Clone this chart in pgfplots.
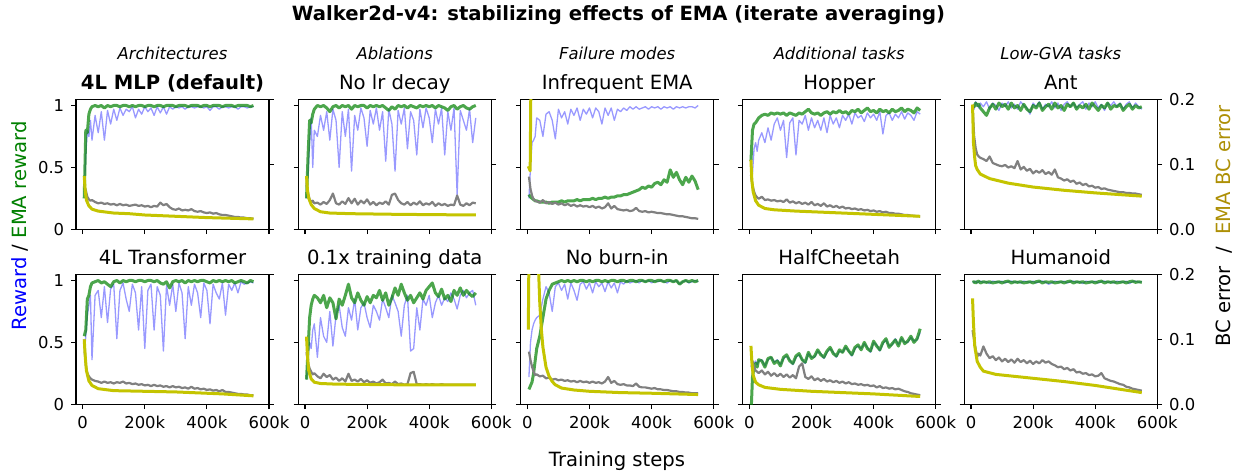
\documentclass[border=0pt]{standalone}
\usepackage{fontspec}
\setmainfont{DejaVu Sans}
\usepackage{pgfplots}
\pgfplotsset{compat=1.18}
\usepackage{pgfplotstable}
\definecolor{mblue}{rgb}{0,0,1}
\definecolor{mgreen}{rgb}{0,0.5,0}
\definecolor{mgray}{rgb}{0.5,0.5,0.5}
\definecolor{myel}{rgb}{0.77,0.77,0}
\definecolor{mgold}{rgb}{0.68,0.56,0.02}
\newcommand{\fbig}{\fontsize{9.8bp}{11bp}\selectfont}
\newcommand{\fmed}{\fontsize{8.2bp}{9.5bp}\selectfont}

\pgfplotsset{
  base/.style={scale only axis, width=96.5bp, height=65bp, xmin=-21.5, xmax=600,
    tick align=outside, major tick length=2.4bp,
    tick style={black, line width=0.55bp},
    axis line style={line width=0.55bp},
    tick label style={font=\fmed},
    no markers, clip=true},
  leftax/.style={base, ymin=0, ymax=1.05, ytick={0,0.5,1}, xtick={0,200,400,600},
    yticklabels={}, xticklabels={}, tick pos=left},
  rightax/.style={base, ymin=0, ymax=0.2, ytick={0,0.1,0.2}, yticklabels={},
    axis y line*=right, axis x line=none},
  ylab/.style={yticklabels={0,0.5,1}},
  xlab/.style={xticklabels={0,200k,400k,600k}},
  rlab/.style={yticklabels={0.0,0.1,0.2}},
  bl/.style={color=mblue, opacity=0.4, line width=0.65bp, line join=round},
  gr/.style={color=mgreen, opacity=0.7, line width=1.5bp, line join=round},
  gy/.style={color=mgray, line width=1.1bp, line join=round},
  yl/.style={color=myel, line width=1.5bp, line join=round},
}

\pgfplotstableread{
x b g c
5 0.30 0.25 0.068
10 0.60 0.80 0.060
15 0.80 0.78 0.050
20 0.75 0.93 0.046
25 0.88 0.97 0.044
30 0.72 0.99 0.045
40 0.92 1.00 0.042
50 0.78 0.99 0.040
60 0.95 1.00 0.041
70 0.72 0.98 0.039
80 0.96 1.00 0.040
90 0.85 0.99 0.038
100 0.97 1.00 0.039
110 0.88 1.00 0.037
120 0.98 0.99 0.039
130 0.92 1.00 0.037
140 0.97 1.00 0.038
150 0.95 0.99 0.036
160 0.99 1.00 0.037
170 0.90 0.99 0.038
180 0.97 1.00 0.036
190 0.93 1.00 0.037
200 0.99 0.99 0.035
210 0.95 1.00 0.036
220 0.98 1.00 0.034
230 0.92 0.99 0.036
240 0.99 1.00 0.035
250 0.94 1.00 0.041
260 0.99 0.99 0.037
270 0.93 1.00 0.039
280 0.99 1.00 0.034
290 0.97 1.00 0.031
300 0.99 0.99 0.030
310 0.98 1.00 0.032
320 0.99 1.00 0.029
330 0.97 1.00 0.030
340 0.99 0.99 0.029
350 0.99 1.00 0.031
360 0.98 1.00 0.028
370 0.99 1.00 0.027
380 0.99 0.99 0.028
390 0.98 1.00 0.026
400 0.99 1.00 0.025
410 0.96 0.99 0.026
420 0.99 1.00 0.024
430 0.99 1.00 0.025
440 0.97 1.00 0.023
450 0.99 0.99 0.022
460 0.99 1.00 0.022
470 0.98 1.00 0.021
480 0.99 1.00 0.020
490 0.99 0.99 0.019
500 0.97 1.00 0.019
510 0.99 1.00 0.018
520 0.99 1.00 0.018
530 0.98 1.00 0.017
540 0.99 0.99 0.017
550 0.99 1.00 0.016
}\tA

\pgfplotstableread{
x b g c
5 0.25 0.25 0.071
10 0.45 0.60 0.055
15 0.70 0.88 0.046
20 0.90 0.86 0.042
25 0.50 0.93 0.044
30 0.80 0.97 0.040
40 0.75 1.00 0.041
50 0.92 0.99 0.038
60 0.80 1.00 0.042
70 0.95 0.98 0.039
80 0.72 0.95 0.045
90 0.97 0.99 0.055
100 0.88 1.00 0.040
110 0.50 0.98 0.038
120 0.95 1.00 0.043
130 0.75 0.99 0.039
140 0.97 1.00 0.048
150 0.47 0.97 0.040
160 0.92 1.00 0.047
170 0.80 0.99 0.038
180 0.98 1.00 0.044
190 0.90 1.00 0.040
200 0.67 0.98 0.046
210 0.96 1.00 0.038
220 0.85 0.99 0.042
230 0.98 1.00 0.037
240 0.80 0.99 0.041
250 0.95 1.00 0.039
260 0.55 0.98 0.043
270 0.97 0.96 0.038
280 0.85 0.99 0.053
290 0.47 0.97 0.055
300 0.96 1.00 0.045
310 0.85 0.99 0.040
320 0.98 1.00 0.038
330 0.65 0.98 0.042
340 0.95 1.00 0.037
350 0.88 0.99 0.041
360 0.60 0.98 0.038
370 0.97 1.00 0.043
380 0.82 0.99 0.037
390 0.98 1.00 0.040
400 0.90 0.99 0.038
410 0.70 1.00 0.042
420 0.97 0.98 0.036
430 0.85 1.00 0.040
440 0.98 0.99 0.037
450 0.60 0.98 0.039
460 0.95 0.96 0.036
470 0.80 0.99 0.038
480 0.98 1.00 0.037
490 0.28 0.97 0.052
500 0.96 0.99 0.038
510 0.88 1.00 0.036
520 0.80 0.98 0.040
530 0.97 0.97 0.037
540 0.70 0.99 0.041
550 0.90 1.00 0.040
}\tB

\pgfplotstableread{
x b g c
5 0.25 0.28 0.081
10 0.50 0.26 0.062
15 0.70 0.25 0.052
20 0.72 0.24 0.046
25 0.75 0.23 0.044
30 0.90 0.23 0.043
40 0.88 0.22 0.041
50 0.75 0.22 0.045
60 0.93 0.22 0.040
70 0.95 0.21 0.042
80 0.88 0.22 0.039
90 0.73 0.22 0.041
100 0.97 0.22 0.038
110 0.90 0.23 0.040
120 0.95 0.22 0.037
130 0.85 0.23 0.039
140 0.97 0.23 0.036
150 0.92 0.23 0.038
160 0.98 0.24 0.035
170 0.88 0.23 0.037
180 0.97 0.24 0.035
190 0.93 0.24 0.036
200 0.98 0.24 0.034
210 0.90 0.25 0.036
220 0.98 0.24 0.033
230 0.95 0.25 0.035
240 0.85 0.25 0.032
250 0.98 0.26 0.034
260 0.92 0.25 0.040
270 0.98 0.26 0.032
280 0.88 0.26 0.036
290 0.97 0.27 0.031
300 0.95 0.27 0.030
310 0.98 0.28 0.029
320 0.96 0.28 0.030
330 0.99 0.29 0.028
340 0.97 0.30 0.029
350 0.99 0.31 0.033
360 0.97 0.32 0.028
370 0.98 0.34 0.027
380 0.99 0.33 0.028
390 0.97 0.35 0.026
400 0.99 0.34 0.027
410 0.98 0.37 0.026
420 0.99 0.38 0.025
430 0.97 0.36 0.025
440 0.99 0.40 0.024
450 0.98 0.38 0.023
460 0.99 0.48 0.023
470 0.97 0.42 0.022
480 0.99 0.46 0.021
490 0.98 0.40 0.020
500 0.99 0.36 0.020
510 0.98 0.42 0.019
520 0.99 0.38 0.018
530 0.99 0.43 0.017
540 0.98 0.39 0.017
550 1.00 0.32 0.016
}\tC

\pgfplotstableread{
x b g c
5 0.40 0.55 0.084
10 0.45 0.80 0.068
15 0.65 0.85 0.058
20 0.70 0.86 0.052
25 0.63 0.88 0.049
30 0.72 0.90 0.047
40 0.78 0.92 0.050
50 0.70 0.93 0.045
60 0.82 0.92 0.046
70 0.72 0.94 0.044
80 0.85 0.93 0.045
90 0.90 0.94 0.043
100 0.80 0.93 0.044
110 0.88 0.94 0.042
120 0.58 0.92 0.046
130 0.86 0.94 0.041
140 0.90 0.93 0.043
150 0.60 0.92 0.040
160 0.88 0.94 0.042
170 0.85 0.93 0.039
180 0.92 0.95 0.041
190 0.80 0.97 0.038
200 0.90 0.94 0.042
210 0.82 0.93 0.037
220 0.88 0.94 0.039
230 0.80 0.92 0.036
240 0.90 0.94 0.040
250 0.78 0.95 0.035
260 0.92 0.93 0.037
270 0.85 0.95 0.034
280 0.90 0.94 0.036
290 0.82 0.96 0.033
300 0.92 0.94 0.035
310 0.88 0.95 0.032
320 0.93 0.93 0.033
330 0.85 0.96 0.031
340 0.94 0.95 0.032
350 0.90 0.97 0.030
360 0.92 0.94 0.031
370 0.87 0.96 0.029
380 0.94 0.98 0.030
390 0.90 0.95 0.028
400 0.93 0.96 0.029
410 0.88 0.94 0.027
420 0.95 0.97 0.028
430 0.77 0.95 0.026
440 0.92 0.96 0.027
450 0.94 0.94 0.025
460 0.88 0.97 0.025
470 0.93 0.95 0.024
480 0.90 0.96 0.024
490 0.95 0.98 0.023
500 0.89 0.95 0.022
510 0.94 0.97 0.022
520 0.92 0.96 0.021
530 0.88 0.94 0.021
540 0.95 0.98 0.020
550 0.93 0.96 0.020
}\tD

\pgfplotstableread{
x b g c
5 1.00 1.00 0.190
10 0.97 0.99 0.144
15 1.03 1.02 0.125
20 1.01 1.00 0.115
25 0.98 1.01 0.112
30 1.02 0.98 0.110
40 0.99 0.95 0.108
50 1.03 0.92 0.105
60 0.97 0.98 0.112
70 1.02 1.01 0.102
80 1.00 0.97 0.100
90 0.96 1.02 0.098
100 1.02 0.99 0.097
110 0.99 1.01 0.099
120 1.03 0.97 0.095
130 0.98 1.02 0.097
140 1.01 0.98 0.094
150 0.97 1.00 0.105
160 1.03 0.96 0.092
170 1.00 1.01 0.096
180 0.98 0.97 0.090
190 0.93 0.95 0.093
200 1.02 1.00 0.086
210 0.99 0.98 0.090
220 1.03 1.02 0.087
230 0.97 0.96 0.091
240 1.01 0.99 0.085
250 0.99 1.01 0.088
260 1.03 0.97 0.084
270 0.98 1.02 0.092
280 1.02 0.98 0.080
290 0.96 1.00 0.078
300 1.01 0.96 0.075
310 1.03 1.01 0.077
320 0.99 0.99 0.073
330 1.02 1.02 0.075
340 0.98 0.97 0.070
350 1.01 1.00 0.072
360 1.03 0.98 0.068
370 0.97 1.01 0.070
380 1.02 0.97 0.066
390 0.99 1.02 0.067
400 1.03 0.99 0.064
410 0.98 0.96 0.065
420 1.01 1.00 0.062
430 0.96 0.98 0.063
440 1.02 1.02 0.061
450 1.00 0.97 0.060
460 1.03 1.00 0.059
470 0.99 0.99 0.058
480 1.02 1.01 0.057
490 0.97 0.96 0.057
500 1.01 0.99 0.056
510 1.03 1.01 0.056
520 0.98 0.97 0.055
530 1.02 1.00 0.055
540 0.99 0.98 0.054
550 0.97 0.99 0.053
}\tE

\pgfplotstableread{
x b g c
5 0.40 0.55 0.100
10 0.55 0.60 0.060
15 0.72 0.85 0.048
20 0.80 0.88 0.043
25 0.88 0.95 0.040
30 0.36 0.98 0.038
40 0.88 0.99 0.036
50 0.92 1.00 0.035
60 0.70 0.98 0.033
70 0.95 0.99 0.035
80 0.66 0.97 0.033
90 0.93 0.95 0.034
100 0.97 0.99 0.032
110 0.53 1.00 0.034
120 0.92 0.98 0.033
130 0.98 1.00 0.035
140 0.85 0.99 0.032
150 0.75 1.00 0.033
160 0.97 1.00 0.031
170 0.90 0.99 0.032
180 0.60 1.00 0.030
190 0.95 1.00 0.031
200 0.45 0.99 0.029
210 0.92 1.00 0.030
220 0.97 1.00 0.028
230 0.60 0.99 0.030
240 0.95 1.00 0.028
250 0.88 0.98 0.029
260 0.43 0.97 0.027
270 0.96 0.99 0.028
280 0.80 0.94 0.026
290 0.97 0.99 0.028
300 0.75 1.00 0.026
310 0.98 0.99 0.027
320 0.90 1.00 0.025
330 0.53 0.98 0.026
340 0.95 1.00 0.024
350 0.80 0.99 0.027
360 0.97 1.00 0.024
370 0.90 0.99 0.025
380 0.70 1.00 0.023
390 0.98 1.00 0.024
400 0.92 0.99 0.022
410 0.65 0.98 0.023
420 0.97 1.00 0.021
430 0.90 0.99 0.022
440 0.85 1.00 0.020
450 0.98 0.99 0.022
460 0.72 1.00 0.019
470 0.97 0.99 0.019
480 0.92 1.00 0.018
490 0.98 0.98 0.017
500 0.90 0.99 0.016
510 0.99 1.00 0.016
520 0.97 0.99 0.015
530 0.98 0.98 0.015
540 0.99 1.00 0.014
550 0.98 0.99 0.014
}\tF

\pgfplotstableread{
x b g c
5 0.20 0.20 0.080
10 0.40 0.45 0.063
15 0.50 0.70 0.055
20 0.45 0.80 0.050
25 0.60 0.85 0.046
30 0.65 0.88 0.048
40 0.38 0.86 0.043
50 0.70 0.82 0.040
60 0.55 0.88 0.047
70 0.50 0.78 0.042
80 0.75 0.86 0.045
90 0.47 0.82 0.038
100 0.72 0.69 0.041
110 0.80 0.85 0.036
120 0.62 0.80 0.040
130 0.55 0.88 0.035
140 0.78 0.97 0.047
150 0.68 0.86 0.036
160 0.85 0.82 0.038
170 0.60 0.90 0.035
180 0.78 0.84 0.039
190 0.82 0.80 0.034
200 0.70 0.87 0.037
210 0.62 0.82 0.033
220 0.80 0.88 0.035
230 0.75 0.86 0.032
240 0.68 0.92 0.034
250 0.85 0.84 0.038
260 0.78 0.90 0.032
270 0.70 0.80 0.033
280 0.88 0.86 0.031
290 0.82 0.94 0.035
300 0.75 0.88 0.031
310 0.55 0.97 0.032
320 0.80 0.90 0.030
330 0.88 0.84 0.031
340 0.43 0.88 0.048
350 0.45 0.82 0.050
360 0.78 0.86 0.031
370 0.60 0.90 0.031
380 0.85 0.85 0.030
390 0.80 0.92 0.031
400 0.88 0.95 0.030
410 0.70 0.98 0.031
420 0.82 0.90 0.030
430 0.88 0.87 0.030
440 0.80 0.93 0.031
450 0.86 0.85 0.030
460 0.83 0.88 0.030
470 0.90 0.83 0.030
480 0.85 0.92 0.030
490 0.77 0.88 0.030
500 0.88 0.94 0.030
510 0.92 0.88 0.030
520 0.86 0.92 0.030
530 0.90 0.89 0.030
540 0.92 0.87 0.030
550 0.80 0.90 0.030
}\tG

\pgfplotstableread{
x b g c
5 0.22 0.12 0.081
10 0.50 0.15 0.068
15 0.60 0.18 0.058
20 0.65 0.25 0.050
25 0.68 0.35 0.045
30 0.70 0.45 0.046
40 0.72 0.55 0.043
50 0.85 0.70 0.044
60 0.95 0.85 0.040
70 0.90 0.92 0.041
80 0.75 0.97 0.038
90 0.95 0.98 0.039
100 0.98 0.99 0.037
110 0.92 1.00 0.038
120 0.97 0.99 0.036
130 0.85 1.00 0.037
140 0.98 0.99 0.035
150 0.92 1.00 0.036
160 0.84 0.99 0.034
170 0.97 1.00 0.036
180 0.99 1.00 0.034
190 0.93 0.99 0.035
200 0.98 1.00 0.033
210 0.90 0.99 0.035
220 0.99 1.00 0.033
230 0.95 1.00 0.034
240 0.98 0.99 0.032
250 0.91 1.00 0.035
260 0.99 0.99 0.042
270 0.94 1.00 0.033
280 0.98 1.00 0.036
290 0.90 0.99 0.031
300 0.99 1.00 0.030
310 0.97 1.00 0.031
320 1.00 0.99 0.029
330 0.98 1.00 0.029
340 0.99 1.00 0.028
350 1.00 0.99 0.032
360 0.98 1.00 0.027
370 1.00 1.00 0.026
380 0.99 0.99 0.026
390 1.00 1.00 0.025
400 0.98 1.00 0.024
410 1.00 0.99 0.025
420 0.99 1.00 0.023
430 1.00 1.00 0.023
440 0.99 0.99 0.022
450 0.98 1.00 0.022
460 1.00 1.00 0.021
470 0.99 0.99 0.020
480 1.00 1.00 0.020
490 0.97 0.97 0.019
500 0.99 0.99 0.019
510 1.00 1.00 0.018
520 0.98 0.99 0.018
530 0.99 1.00 0.017
540 1.00 0.99 0.017
550 0.99 1.00 0.017
}\tH

\pgfplotstableread{
x b g c
5 0.30 -0.10 0.070
10 0.35 0.22 0.066
15 0.33 0.30 0.058
20 0.35 0.33 0.052
25 0.32 0.30 0.050
30 0.35 0.36 0.048
40 0.36 0.35 0.052
50 0.31 0.30 0.046
60 0.36 0.37 0.050
70 0.38 0.38 0.044
80 0.34 0.33 0.048
90 0.36 0.35 0.043
100 0.32 0.31 0.047
110 0.37 0.38 0.042
120 0.39 0.40 0.046
130 0.36 0.35 0.041
140 0.32 0.33 0.045
150 0.38 0.39 0.040
160 0.40 0.41 0.058
170 0.36 0.36 0.063
180 0.33 0.34 0.042
190 0.41 0.42 0.039
200 0.38 0.37 0.043
210 0.38 0.39 0.037
220 0.43 0.44 0.040
230 0.41 0.40 0.036
240 0.37 0.38 0.039
250 0.42 0.43 0.035
260 0.45 0.46 0.037
270 0.42 0.41 0.034
280 0.38 0.39 0.036
290 0.43 0.44 0.033
300 0.42 0.42 0.035
310 0.46 0.47 0.032
320 0.43 0.43 0.034
330 0.39 0.40 0.031
340 0.45 0.46 0.032
350 0.47 0.48 0.030
360 0.45 0.44 0.031
370 0.49 0.50 0.029
380 0.46 0.45 0.030
390 0.42 0.43 0.028
400 0.50 0.51 0.029
410 0.48 0.47 0.026
420 0.43 0.44 0.028
430 0.49 0.50 0.025
440 0.52 0.53 0.026
450 0.47 0.46 0.024
460 0.48 0.49 0.025
470 0.53 0.52 0.023
480 0.48 0.47 0.024
490 0.53 0.54 0.022
500 0.50 0.49 0.020
510 0.50 0.51 0.019
520 0.54 0.55 0.017
530 0.51 0.50 0.016
540 0.52 0.53 0.015
550 0.58 0.61 0.014
}\tI

\pgfplotstableread{
x b g c
5 0.990 0.985 0.114
10 0.985 0.990 0.099
15 0.995 0.980 0.085
20 0.980 0.990 0.073
25 0.990 0.995 0.078
30 0.995 0.980 0.075
40 0.985 0.990 0.089
50 0.990 0.985 0.078
60 0.975 0.990 0.071
70 0.995 0.980 0.074
80 0.990 0.985 0.068
90 0.985 0.990 0.072
100 0.995 0.980 0.066
110 0.980 0.990 0.070
120 0.990 0.995 0.065
130 0.995 0.980 0.069
140 0.985 0.990 0.064
150 0.990 0.985 0.070
160 0.980 0.990 0.065
170 0.995 0.980 0.068
180 0.990 0.985 0.063
190 0.985 0.990 0.067
200 0.995 0.980 0.062
210 0.980 0.990 0.066
220 0.990 0.995 0.063
230 0.995 0.980 0.068
240 0.985 0.990 0.064
250 0.970 0.985 0.066
260 0.980 0.990 0.062
270 0.995 0.980 0.060
280 0.990 0.985 0.057
290 0.985 0.990 0.058
300 0.995 0.980 0.054
310 0.980 0.990 0.056
320 0.990 0.995 0.052
330 0.995 0.980 0.054
340 0.985 0.990 0.049
350 0.990 0.985 0.050
360 0.975 0.990 0.047
370 0.995 0.980 0.048
380 0.990 0.985 0.045
390 0.985 0.990 0.046
400 0.995 0.980 0.043
410 0.980 0.990 0.044
420 0.990 0.995 0.048
430 0.995 0.980 0.040
440 0.985 0.990 0.038
450 0.990 0.985 0.036
460 0.980 0.990 0.035
470 0.995 0.980 0.033
480 0.990 0.985 0.031
490 0.985 0.990 0.030
500 0.995 0.980 0.027
510 0.975 0.990 0.026
520 0.990 0.995 0.024
530 0.995 0.985 0.023
540 0.985 0.990 0.022
550 0.990 0.985 0.021
}\tJ

\newcommand{\panel}[6]{%
  \begin{axis}[leftax, at={(#1,#2)}, #5]
    \addplot[bl] table[x=x,y=b]{#3};
    \addplot[gr] table[x=x,y=g]{#3};
  \end{axis}
  \begin{axis}[rightax, at={(#1,#2)}, #6]
    \addplot[gy] table[x=x,y=c]{#3};
    \addplot[yl] coordinates {#4};
  \end{axis}}

\begin{document}
\begin{tikzpicture}
% row 1
\panel{38bp}{120.85bp}{\tA}{(5,0.082)(8,0.06)(12,0.045)(20,0.036)(30,0.031)(50,0.028)(100,0.025)(150,0.024)(200,0.022)(300,0.020)(400,0.018)(550,0.016)}{ylab}{}
\panel{149.15bp}{120.85bp}{\tB}{(5,0.082)(8,0.06)(12,0.048)(20,0.038)(30,0.032)(50,0.027)(80,0.025)(150,0.024)(300,0.023)(550,0.022)}{}{}
\panel{260.35bp}{120.85bp}{\tC}{(3,0.097)(9,0.09)(16,0.5)(20,0.8)}{}{}
\panel{371.35bp}{120.85bp}{\tD}{(5,0.107)(8,0.075)(12,0.058)(20,0.044)(30,0.037)(50,0.032)(80,0.030)(150,0.028)(300,0.025)(450,0.022)(550,0.020)}{}{}
\panel{482.15bp}{120.85bp}{\tE}{(5,0.192)(8,0.133)(12,0.110)(15,0.098)(20,0.092)(30,0.085)(60,0.078)(120,0.071)(200,0.065)(300,0.060)(400,0.056)(550,0.051)}{}{rlab}
% row 2
\panel{38bp}{33.35bp}{\tF}{(5,0.10)(8,0.075)(12,0.052)(20,0.036)(30,0.029)(50,0.024)(100,0.021)(200,0.020)(300,0.019)(450,0.016)(550,0.013)}{ylab,xlab}{}
\panel{149.15bp}{33.35bp}{\tG}{(5,0.104)(8,0.075)(12,0.052)(20,0.039)(30,0.034)(50,0.032)(100,0.031)(300,0.030)(550,0.030)}{xlab}{}
\panel{260.35bp}{33.35bp}{\tH}{(3,0.115)(8,0.4)(15,0.6)(25,0.45)(30,0.32)(35,0.22)(40,0.155)(45,0.115)(50,0.088)(60,0.057)(70,0.043)(80,0.035)(90,0.030)(110,0.025)(150,0.022)(200,0.020)(300,0.018)(400,0.017)(550,0.015)}{xlab}{}
\panel{371.35bp}{33.35bp}{\tI}{(5,0.090)(8,0.065)(12,0.045)(20,0.034)(30,0.030)(50,0.026)(100,0.023)(200,0.020)(300,0.018)(400,0.016)(550,0.012)}{xlab}{}
\panel{482.15bp}{33.35bp}{\tJ}{(5,0.163)(8,0.125)(12,0.090)(20,0.066)(30,0.057)(40,0.051)(80,0.046)(200,0.040)(300,0.035)(400,0.029)(550,0.018)}{xlab}{rlab}

% titles
\node[font=\fbig\bfseries, anchor=base] at (309.25bp,225bp) {Walker2d-v4: stabilizing effects of EMA (iterate averaging)};
\node[font=\fmed\itshape, anchor=base] at (86.25bp,205.5bp) {Architectures};
\node[font=\fmed\itshape, anchor=base] at (197.4bp,205.5bp) {Ablations};
\node[font=\fmed\itshape, anchor=base] at (308.6bp,205.5bp) {Failure modes};
\node[font=\fmed\itshape, anchor=base] at (419.6bp,205.5bp) {Additional tasks};
\node[font=\fmed\itshape, anchor=base] at (530.4bp,205.5bp) {Low-GVA tasks};

\node[font=\fbig\bfseries, anchor=base] at (86.25bp,190.85bp) {4L MLP (default)};
\node[font=\fbig, anchor=base] at (197.4bp,190.85bp) {No lr decay};
\node[font=\fbig, anchor=base] at (308.6bp,190.85bp) {Infrequent EMA};
\node[font=\fbig, anchor=base] at (419.6bp,190.85bp) {Hopper};
\node[font=\fbig, anchor=base] at (530.4bp,190.85bp) {Ant};

\node[font=\fbig, anchor=base] at (86.25bp,103.3bp) {4L Transformer};
\node[font=\fbig, anchor=base] at (197.4bp,103.3bp) {0.1x training data};
\node[font=\fbig, anchor=base] at (308.6bp,103.3bp) {No burn-in};
\node[font=\fbig, anchor=base] at (419.6bp,103.3bp) {HalfCheetah};
\node[font=\fbig, anchor=base] at (530.4bp,103.3bp) {Humanoid};

\node[font=\fbig, anchor=base] at (308.5bp,2.3bp) {Training steps};
\node[font=\fbig, rotate=90] at (9.75bp,122.5bp) {\textcolor{mblue}{Reward} / \textcolor{mgreen}{EMA reward}};
\node[font=\fbig, rotate=90] at (612.25bp,122.5bp) {BC error\ \ /\ \ \textcolor{mgold}{EMA BC error}};

\pgfresetboundingbox
\path[use as bounding box] (0,0) rectangle (620bp,235.5bp);
\end{tikzpicture}
\end{document}
